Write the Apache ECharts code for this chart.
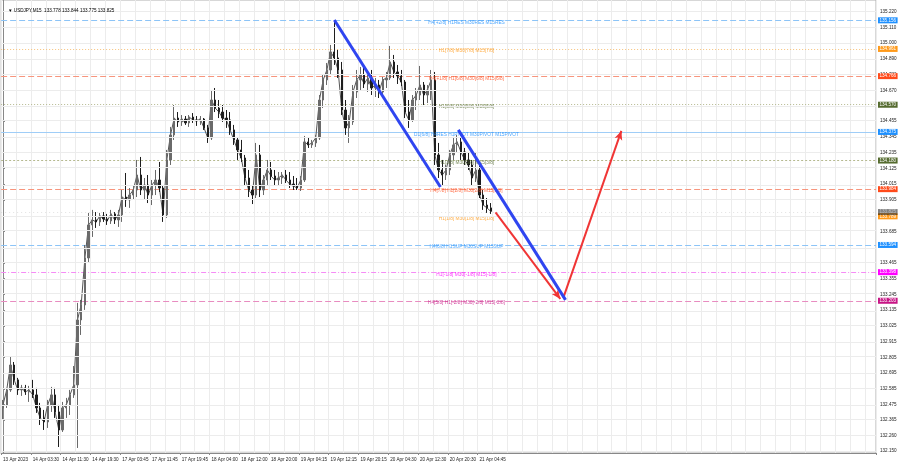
<!DOCTYPE html>
<html><head><meta charset="utf-8">
<script src="https://cdn.jsdelivr.net/npm/echarts@6/dist/echarts.min.js"></script>
<style>html,body{margin:0;padding:0;background:#fff}#c{width:900px;height:468px}</style>
</head><body><div id="c"></div>
<script>
// ---------- data ----------
const titleText = '\u25BC USDJPY,M15  133.778 133.844 133.775 133.825';
const timeLabels = ['13 Apr 2023','14 Apr 03:30','14 Apr 11:30','14 Apr 19:30','17 Apr 03:45','17 Apr 11:45','17 Apr 19:45','18 Apr 04:00','18 Apr 12:00','18 Apr 20:00','19 Apr 04:15','19 Apr 12:15','19 Apr 20:15','20 Apr 04:30','20 Apr 12:30','20 Apr 20:30','21 Apr 04:45'];
const slotsPerLabel = 8;
const totalSlots = 235;
// [open, close, low, high]
const candles = [
[132.451,132.472,132.367,132.507],[132.472,132.577,132.451,132.591],[132.577,132.751,132.563,132.807],[132.751,132.647,132.612,132.772],
[132.647,132.577,132.542,132.661],[132.577,132.591,132.535,132.612],[132.591,132.563,132.542,132.612],[132.563,132.577,132.493,132.605],
[132.577,132.542,132.521,132.647],[132.542,132.451,132.416,132.591],[132.451,132.381,132.332,132.486],[132.381,132.353,132.297,132.437],
[132.353,132.472,132.311,132.507],[132.472,132.542,132.423,132.598],[132.542,132.423,132.381,132.591],[132.423,132.297,132.178,132.472],
[132.297,132.451,132.283,132.493],[132.451,132.472,132.381,132.521],[132.472,132.542,132.402,132.577],[132.542,132.612,132.521,132.744],
[132.612,133.066,132.171,133.185],[133.066,133.171,132.961,133.206],[133.171,133.499,133.136,133.590],[133.499,133.730,133.471,133.814],
[133.730,133.765,133.646,133.835],[133.765,133.751,133.709,133.820],[133.751,133.793,133.723,133.814],[133.793,133.772,133.751,133.820],
[133.772,133.758,133.730,133.807],[133.758,133.807,133.737,133.835],[133.807,133.765,133.737,133.820],[133.765,133.800,133.716,133.835],
[133.800,133.925,133.751,133.974],[133.925,133.905,133.856,134.093],[133.905,133.939,133.849,133.988],[133.939,133.974,133.905,134.002],
[133.974,134.079,133.925,134.184],[134.079,133.974,133.939,134.205],[133.974,134.009,133.905,134.058],[134.009,133.939,133.883,134.079],
[133.939,134.009,133.869,134.044],[134.009,134.044,133.939,134.114],[134.044,133.988,133.960,134.170],[133.988,133.800,133.751,134.009],
[133.800,134.184,133.779,134.254],[134.184,134.359,134.149,134.415],[134.359,134.477,134.324,134.568],[134.477,134.450,134.415,134.519],
[134.450,134.470,134.422,134.498],[134.470,134.443,134.429,134.491],[134.443,134.484,134.415,134.498],[134.484,134.464,134.443,134.512],
[134.464,134.457,134.422,134.491],[134.457,134.470,134.429,134.491],[134.470,134.408,134.394,134.477],[134.408,134.338,134.303,134.429],
[134.338,134.603,134.324,134.673],[134.603,134.547,134.519,134.687],[134.547,134.519,134.477,134.603],[134.519,134.477,134.450,134.568],
[134.477,134.464,134.408,134.533],[134.464,134.394,134.359,134.519],[134.394,134.324,134.289,134.429],[134.324,134.254,134.184,134.338],
[134.254,134.198,134.170,134.324],[134.198,134.058,134.009,134.219],[134.058,133.974,133.925,134.114],[133.974,133.939,133.876,134.009],
[133.939,134.219,133.918,134.303],[134.219,133.974,133.925,134.289],[133.974,134.044,133.939,134.079],[134.044,134.114,134.009,134.184],
[134.114,134.072,134.044,134.170],[134.072,134.044,134.009,134.114],[134.044,134.058,134.002,134.100],[134.058,134.079,134.016,134.100],
[134.079,134.044,134.023,134.114],[134.044,134.016,133.988,134.100],[134.016,134.002,133.974,134.072],[134.002,133.988,133.974,134.058],
[133.988,134.044,133.967,134.072],[134.044,134.310,134.030,134.352],[134.310,134.289,134.268,134.338],[134.289,134.303,134.268,134.324],
[134.303,134.338,134.275,134.359],[134.338,134.603,134.324,134.638],[134.603,134.743,134.547,134.778],[134.743,134.813,134.708,134.862],
[134.813,134.939,134.778,134.988],[134.939,134.897,134.848,135.162],[134.897,134.813,134.757,134.953],[134.813,134.533,134.498,134.869],
[134.533,134.408,134.359,134.603],[134.408,134.450,134.303,134.498],[134.450,134.659,134.429,134.708],[134.659,134.743,134.617,134.813],
[134.743,134.778,134.673,134.834],[134.778,134.715,134.687,134.827],[134.715,134.757,134.659,134.799],[134.757,134.687,134.638,134.813],
[134.687,134.708,134.624,134.757],[134.708,134.659,134.617,134.743],[134.659,134.743,134.645,134.764],[134.743,134.757,134.687,134.799],
[134.757,134.869,134.743,134.981],[134.869,134.799,134.757,134.918],[134.799,134.771,134.715,134.848],[134.771,134.729,134.701,134.813],
[134.729,134.519,134.477,134.743],[134.519,134.464,134.408,134.603],[134.464,134.603,134.450,134.638],[134.603,134.638,134.533,134.687],
[134.638,134.708,134.603,134.841],[134.708,134.638,134.568,134.729],[134.638,134.673,134.582,134.708],[134.673,134.743,134.603,134.813],
[134.743,134.219,134.149,134.799],[134.219,134.114,134.058,134.303],[134.114,134.079,134.009,134.184],[134.079,134.114,134.044,134.149],
[134.114,134.219,134.079,134.254],[134.219,134.289,134.184,134.345],[134.289,134.310,134.240,134.359],[134.310,134.240,134.184,134.338],
[134.240,134.184,134.149,134.268],[134.184,134.149,134.114,134.240],[134.149,134.058,134.009,134.184],[134.058,134.114,134.030,134.240],
[134.114,133.939,133.918,134.149],[133.939,133.869,133.835,133.974],[133.869,133.849,133.814,133.918],[133.849,133.825,133.807,133.883]
];
const yMin = 132.136, yMax = 135.302;
const yLabelTicks = [135.220,135.110,135.000,134.890,134.780,134.670,134.455,134.345,134.235,134.125,134.015,133.905,133.685,133.465,133.355,133.245,133.135,133.025,132.915,132.805,132.695,132.585,132.475,132.365,132.260,132.150];
const yGridTicks = [135.220,135.110,135.000,134.890,134.780,134.670,134.560,134.455,134.345,134.235,134.125,134.015,133.905,133.795,133.685,133.575,133.465,133.355,133.245,133.135,133.025,132.915,132.805,132.695,132.585,132.475,132.365,132.260,132.150];
const levelPrices = [135.156,134.961,134.766,134.570,134.375,134.180,133.984,133.789,133.594,133.398,133.203];
const levelTexts = ['H4[+2/8] H1RES M30RES M15RES','H1[7/8] M30[7/8] M15[7/8]','H4[+1/8] H1[6/8] M30[6/8] M15[6/8]','H1[5/8] M30[5/8] M15[5/8]','D1[6/8] H4RES H1PIVOT M30PIVOT M15PIVOT','H1[3/8] M30[3/8] M15[3/8]','H4[7/8] H1[2/8] M30[2/8] M15[2/8]','H1[1/8] M30[1/8] M15[1/8]','H4[6/8] H1SUP M30SUP M15SUP','H1[-1/8] M30[-1/8] M15[-1/8]','H4[5/8] H1[-2/8] M30[-2/8] M15[-2/8]'];
const levelColors = ['#1e90ff','#ff9a1a','#ff4a1a','#556b2f','#1e90ff','#556b2f','#ff4a1a','#ff9a1a','#1e90ff','#ff00ff','#c71585'];
const levelLineColors = ['#8cc4f7','#f7c27a','#f7957d','#b5b98f','#9fcdf7','#b5b98f','#f7957d','#f7c27a','#8cc4f7','#f58cf5','#e88cc0'];
const levelLineTypes = [[6,3],[1,2],[6,3],[1,2],'solid',[2,2],[6,3],[1,2],[6,3],[5,2,1,2],[6,3]];
const lastPrice = 133.825;
const levelTextSlot = 124.5;
const blueLine1 = [[89, 135.162], [117.5, 133.995]];
const blueLine2 = [[122.3, 134.394], [151.1, 133.206]];
const redArrow1 = [[132.3, 133.818], [149.7, 133.213]];
const redArrow2 = [[150.5, 133.220], [166.1, 134.387]];

// ---------- chart ----------
const cats = Array.from({length: totalSlots}, (_, i) =>
  (i % slotsPerLabel === 0 && i / slotsPerLabel < timeLabels.length) ? timeLabels[i / slotsPerLabel] : '');
const FONT = 'Liberation Sans';
const FS = 4.6;
const chart = echarts.init(document.getElementById('c'), null, {renderer: 'canvas'});

const boxLabel = (txt, bg) => ({show: true, position: 'end', distance: 2, formatter: txt,
  backgroundColor: bg, color: '#fff', fontSize: FS, fontFamily: FONT, padding: [1, 1.5, 0, 1.5], lineHeight: 5});
const levelMarks = levelPrices.map((p, i) => ({
  yAxis: p,
  lineStyle: {color: levelLineColors[i], type: levelLineTypes[i], width: 1},
  label: boxLabel(p.toFixed(3), levelColors[i])
}));
levelMarks.push({
  yAxis: lastPrice,
  lineStyle: {color: '#c8c8c8', type: [1, 3], width: 1, opacity: 0.5},
  label: boxLabel(lastPrice.toFixed(3), '#000')
});

const option = {
  animation: false,
  backgroundColor: '#fff',
  title: {text: titleText, left: 3, top: 3,
    textStyle: {fontSize: FS, fontWeight: 'normal', color: '#000', fontFamily: FONT}},
  grid: {left: 0, right: 24, top: 0, bottom: 15, show: true, borderColor: '#b0b0b0', borderWidth: 1},
  xAxis: [{
    type: 'category', data: cats, boundaryGap: true,
    axisLine: {show: true, lineStyle: {color: '#888'}},
    axisTick: {show: true, length: 2, interval: (i) => cats[i] !== '', lineStyle: {color: '#888'}},
    axisLabel: {interval: (i, v) => v !== '', fontSize: FS, color: '#222', fontFamily: FONT,
      align: 'left', margin: 4, hideOverlap: false, showMinLabel: true},
    splitLine: {show: true, interval: (i) => i % 4 === 0, lineStyle: {color: '#ececec', width: 1}}
  }, {
    type: 'value', min: -0.5, max: totalSlots - 0.5, show: false
  }],
  yAxis: {
    type: 'value', position: 'right', min: yMin, max: yMax, scale: true,
    axisLine: {show: true, lineStyle: {color: '#888'}},
    axisTick: {show: true, length: 2, customValues: yLabelTicks, lineStyle: {color: '#888'}},
    axisLabel: {customValues: yLabelTicks, formatter: (v) => v.toFixed(3), fontSize: FS,
      color: '#222', fontFamily: FONT, margin: 4},
    splitLine: {show: false}
  },
  series: [
    {
      type: 'line', data: [], silent: true, z: 1,
      markLine: {silent: true, symbol: 'none', animation: false,
        lineStyle: {color: '#ececec', type: 'solid', width: 1},
        label: {show: false},
        data: yGridTicks.map(v => ({yAxis: v}))}
    },
    {
      type: 'line', data: candles.map(c => c[1]), showSymbol: false, silent: true, z: 3,
      lineStyle: {color: '#555', width: 1}
    },
    {
      type: 'candlestick', data: candles, barWidth: 1.8, z: 3,
      itemStyle: {color: '#6a6a6a', color0: '#1e1e1e', borderColor: '#6a6a6a', borderColor0: '#1e1e1e', borderWidth: 1},
      markLine: {silent: true, symbol: 'none', animation: false, z: 2, data: levelMarks}
    },
    {
      type: 'scatter', xAxisIndex: 1, symbolSize: 0, z: 4, silent: true,
      data: levelPrices.map((p, i) => ({value: [levelTextSlot, p], name: levelTexts[i],
        label: {color: levelColors[i]}})),
      label: {show: true, position: 'inside', offset: [0, 2], formatter: (d) => d.name,
        fontSize: 4.8, fontFamily: FONT}
    },
    {
      type: 'line', xAxisIndex: 1, data: blueLine1, showSymbol: false, z: 5,
      lineStyle: {color: '#2f45f0', width: 3}
    },
    {
      type: 'line', xAxisIndex: 1, data: blueLine2, showSymbol: false, z: 5,
      lineStyle: {color: '#2f45f0', width: 3}
    },
    {
      type: 'line', xAxisIndex: 1, data: [], z: 6,
      markLine: {silent: true, animation: false, symbol: ['none', 'arrow'], symbolSize: [6, 9],
        lineStyle: {color: '#f03535', width: 2, type: 'solid'}, label: {show: false},
        data: [
          [{coord: redArrow1[0]}, {coord: redArrow1[1]}],
          [{coord: redArrow2[0]}, {coord: redArrow2[1]}]
        ]}
    }
  ]
};
chart.setOption(option);
</script></body></html>
